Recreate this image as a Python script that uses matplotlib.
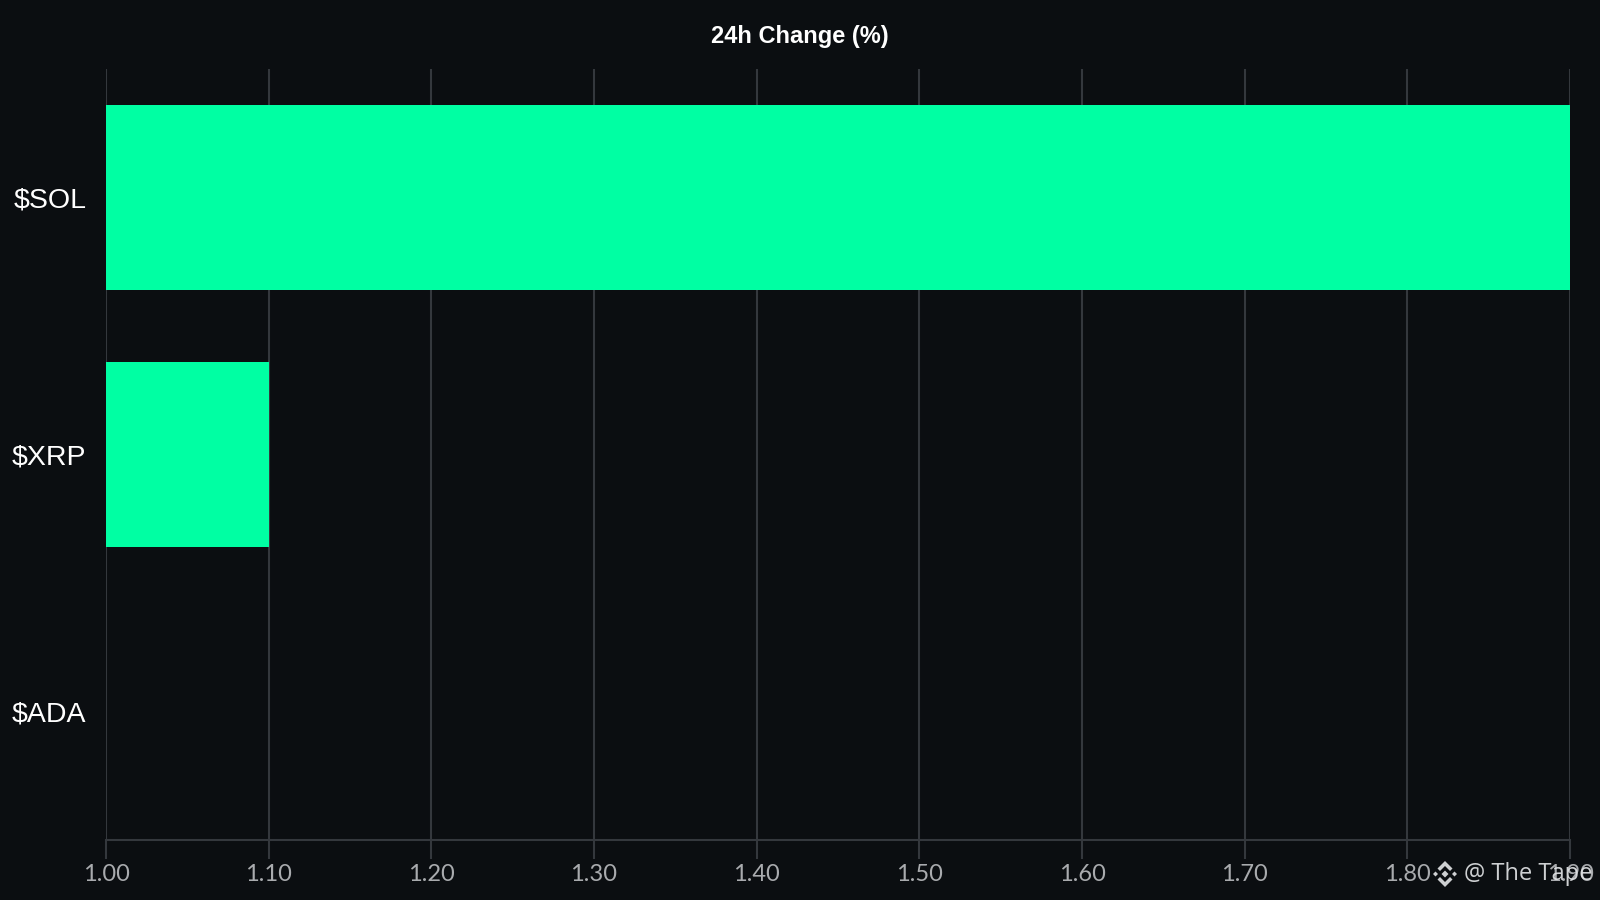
import numpy as np
import matplotlib.pyplot as plt
from matplotlib.patches import Polygon

coins = ['$SOL', '$XRP', '$ADA']
change = [1.90, 1.10, 1.00]
x_ticks = [1.00, 1.10, 1.20, 1.30, 1.40, 1.50, 1.60, 1.70, 1.80, 1.90]

bg = '#0b0e11'
bar_color = '#00ffa3'
grid_color = '#34383d'

fig = plt.figure(figsize=(16, 9), dpi=100, facecolor=bg)
ax = fig.add_axes([106 / 1600, 1 - 840 / 900, (1570 - 106) / 1600, (840 - 69) / 900])
ax.set_facecolor(bg)

y = np.arange(len(coins))
ax.barh(y, change, height=0.72, color=bar_color, zorder=2)
ax.set_ylim(len(coins) - 0.5, -0.5)
ax.set_xlim(1.00, 1.90)

ax.set_xticks(x_ticks)
ax.set_xticklabels([f'{v:.2f}' for v in x_ticks], fontfamily='Lato', fontsize=17, color='#a9abae')
ax.set_yticks(y)
ax.set_yticklabels(coins, fontfamily='Liberation Sans', fontsize=20.5, color='white')
ax.tick_params(axis='x', length=14, width=1.5, color=grid_color, pad=3)
ax.tick_params(axis='y', length=0, pad=14)

ax.grid(True, axis='x', color=grid_color, linewidth=1.5, zorder=0)
for s in ['top', 'right', 'left']:
    ax.spines[s].set_visible(False)
ax.spines['bottom'].set_color(grid_color)
ax.spines['bottom'].set_linewidth(1.5)

fig.text(0.5, 1 - 36 / 900, '24h Change (%)', ha='center', va='center',
         fontfamily='Liberation Sans', fontweight='bold', fontsize=17, color='white')

# watermark: binance-style logo + text
cx, cy = 1445, 874
logo_parts = [
    [(0, 13), (7.5, 5.5), (5, 3), (0, 8), (-5, 3), (-7.5, 5.5)],
    [(0, -13), (7.5, -5.5), (5, -3), (0, -8), (-5, -3), (-7.5, -5.5)],
    [(0, 3.5), (3.5, 0), (0, -3.5), (-3.5, 0)],
    [(9.5, 2.5), (12, 0), (9.5, -2.5), (7, 0)],
    [(-9.5, 2.5), (-7, 0), (-9.5, -2.5), (-12, 0)],
]
for part in logo_parts:
    pts = [((cx + px) / 1600, 1 - (cy - py) / 900) for px, py in part]
    fig.patches.append(Polygon(pts, closed=True, transform=fig.transFigure,
                               facecolor='#e0e2e4', edgecolor='none', alpha=0.92))
fig.text(1464 / 1600, 1 - 874 / 900, '@ The Tape', ha='left', va='center',
         fontfamily='Open Sans', fontsize=17, color='#e0e2e4', alpha=0.92)

plt.savefig('out.png', dpi=100, facecolor=bg)
